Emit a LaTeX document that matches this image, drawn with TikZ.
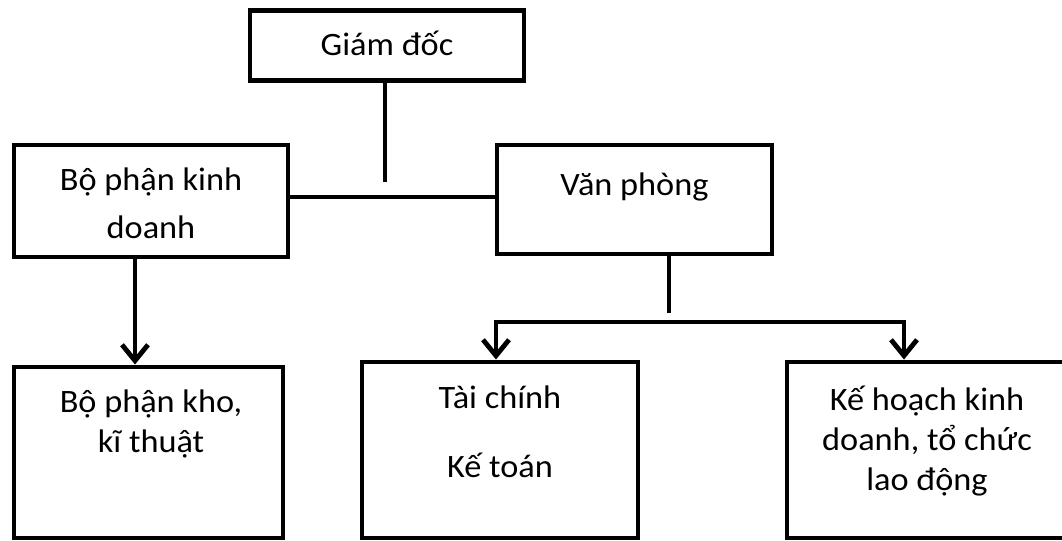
\documentclass[tikz,border=0pt]{standalone}
\usepackage{fontspec}
\setmainfont{Carlito}[FakeStretch=1.05]
\usetikzlibrary{arrows.meta}
\begin{document}
\begin{tikzpicture}[x=0.75pt,y=-0.75pt,
  box/.style={draw, line width=3.7pt, rectangle, inner sep=0pt},
  lbl/.style={inner sep=0pt, align=center, font=\fontsize{24.5}{30}\selectfont},
  link/.style={line width=3.6pt},
  barb/.tip={Straight Barb[length=12pt,width=19.5pt]},
  arr/.style={line width=3.6pt, -barb}]
\useasboundingbox (0,0) rectangle (1062,540);
\clip (0,0) rectangle (1062,540);

% boxes
\node[box, minimum width=205.5pt, minimum height=52.5pt] (gd) at (387,45.5) {};
\node[box, minimum width=205.5pt, minimum height=84pt] (kd) at (151,201) {};
\node[box, minimum width=206.25pt, minimum height=81.75pt] (vp) at (634.5,199.5) {};
\node[box, minimum width=201.75pt, minimum height=128.25pt] (kho) at (148.5,452.5) {};
\node[box, minimum width=207pt, minimum height=132pt] (tc) at (500,450) {};
\node[box, minimum width=217.5pt, minimum height=132pt] (kh) at (932,450) {};

% labels (anchored at the baseline of their last line)
\node[lbl, anchor=base] (gdt) at (387,55) {Giám đốc};
\node[lbl, anchor=base, font=\fontsize{24.5}{35.7}\selectfont] (kdt) at (151,238) {Bộ phận kinh\\doanh};
\node[lbl, anchor=base] (vpt) at (634.5,195) {Văn phòng};
\node[lbl, anchor=base] (khot) at (151,452) {Bộ phận kho,\\kĩ thuật};
\node[lbl, anchor=base] (tct) at (500,477) {Tài chính\\[21.75pt]Kế toán};
\node[lbl, anchor=base] (kht) at (927,490) {Kế hoạch kinh\\doanh, tổ chức\\lao động};

% connectors
\coordinate (gdfoot) at (385,182);
\draw[link] (gdfoot |- gd.south) -- (gdfoot);
\coordinate (hbar) at (0,197);
\draw[link] (kd.east |- hbar) -- (vp.west |- hbar);
\coordinate (kx) at (135,0);
\draw[arr] (kd.south -| kx) -- (kho.north -| kx);
\coordinate (vpfoot) at (669,313);
\draw[link] (vp.south -| vpfoot) -- (vpfoot);
\coordinate (busL) at (496,322);
\coordinate (busR) at (904,322);
\draw[link, barb-barb] (tc.north -| busL) -- (busL) -- (busR) -- (kh.north -| busR);
\end{tikzpicture}
\end{document}
